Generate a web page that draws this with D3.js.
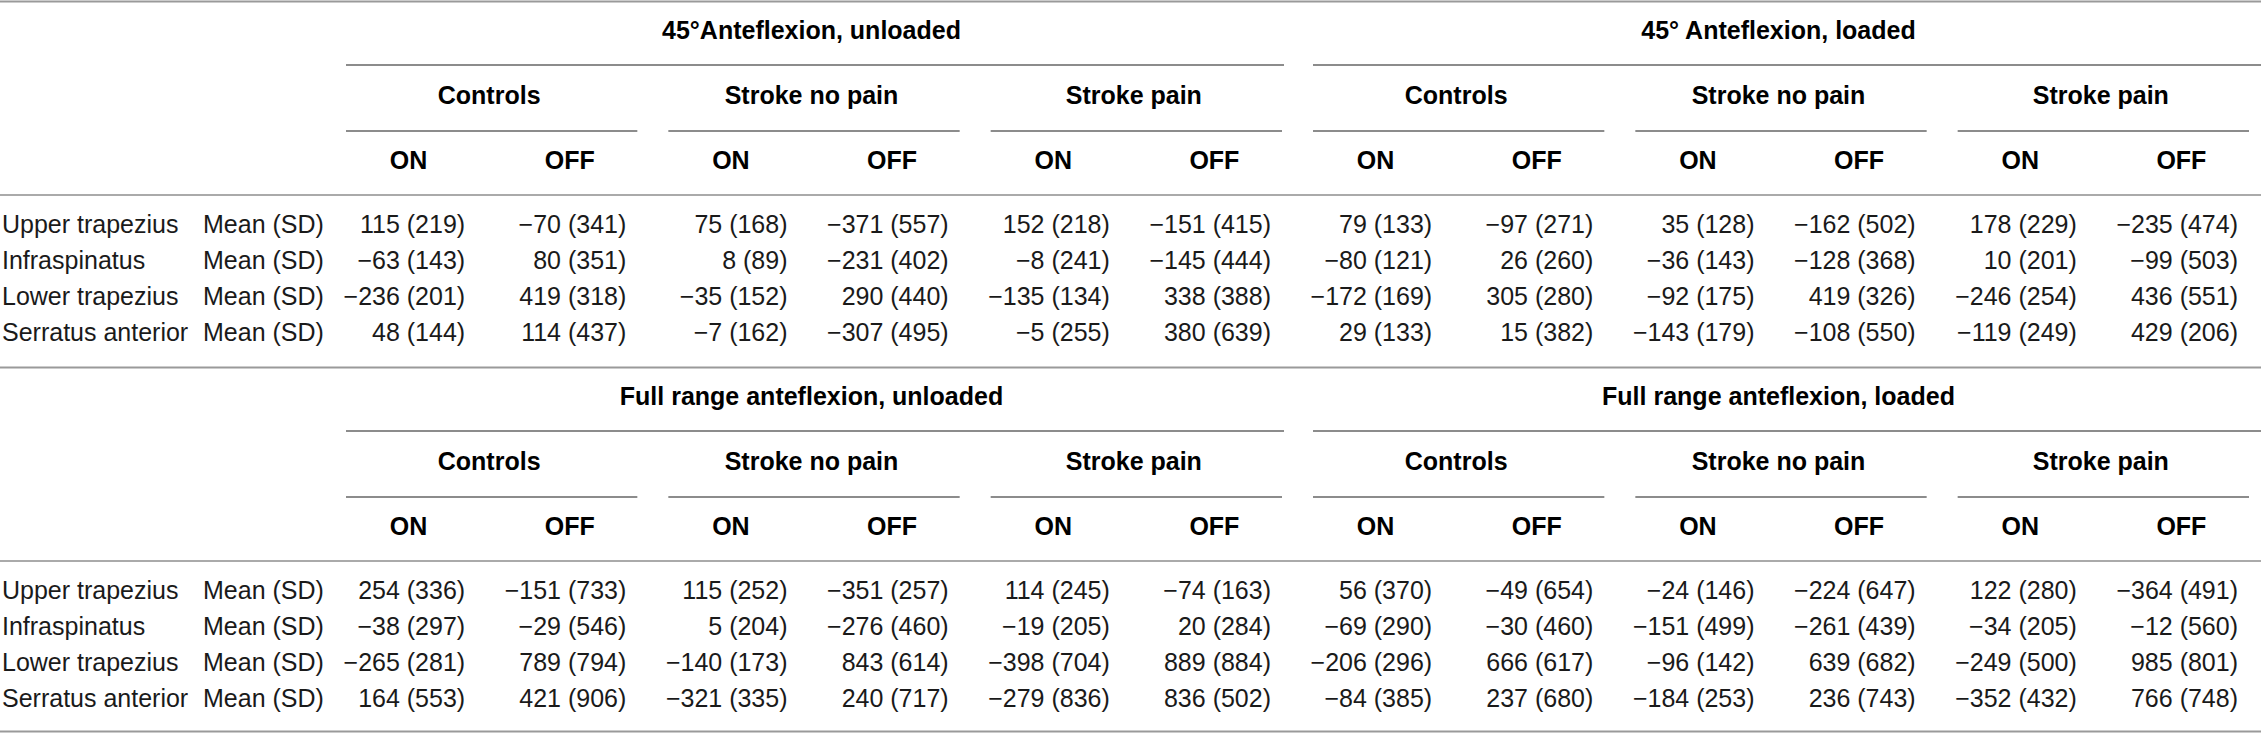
<!DOCTYPE html>
<html>
<head>
<meta charset="utf-8">
<script src="https://cdn.jsdelivr.net/npm/d3@7/dist/d3.min.js"></script>
<style>
  html, body { margin: 0; padding: 0; background: #fff; }
  svg { display: block; }
  text { font-family: "Liberation Sans", Arial, Helvetica, sans-serif; }
</style>
</head>
<body>
<svg id="chart" width="2261" height="733"></svg>
<script>
// ---------- data ----------
const sectionTitles = [
  ["45°Anteflexion, unloaded", "45° Anteflexion, loaded"],
  ["Full range anteflexion, unloaded", "Full range anteflexion, loaded"]
];
const groups = ["Controls", "Stroke no pain", "Stroke pain"];
const conditions = ["ON", "OFF"];
const muscles = ["Upper trapezius", "Infraspinatus", "Lower trapezius", "Serratus anterior"];
const statLabel = "Mean (SD)";

// Section 1: 45° anteflexion (unloaded cols 0-5, loaded cols 6-11)
const means45 = [
  [115, -70, 75, -371, 152, -151, 79, -97, 35, -162, 178, -235],
  [-63, 80, 8, -231, -8, -145, -80, 26, -36, -128, 10, -99],
  [-236, 419, -35, 290, -135, 338, -172, 305, -92, 419, -246, 436],
  [48, 114, -7, -307, -5, 380, 29, 15, -143, -108, -119, 429]
];
const sds45 = [
  [219, 341, 168, 557, 218, 415, 133, 271, 128, 502, 229, 474],
  [143, 351, 89, 402, 241, 444, 121, 260, 143, 368, 201, 503],
  [201, 318, 152, 440, 134, 388, 169, 280, 175, 326, 254, 551],
  [144, 437, 162, 495, 255, 639, 133, 382, 179, 550, 249, 206]
];
// Section 2: full range anteflexion
const meansFull = [
  [254, -151, 115, -351, 114, -74, 56, -49, -24, -224, 122, -364],
  [-38, -29, 5, -276, -19, 20, -69, -30, -151, -261, -34, -12],
  [-265, 789, -140, 843, -398, 889, -206, 666, -96, 639, -249, 985],
  [164, 421, -321, 240, -279, 836, -84, 237, -184, 236, -352, 766]
];
const sdsFull = [
  [336, 733, 252, 257, 245, 163, 370, 654, 146, 647, 280, 491],
  [297, 546, 204, 460, 205, 284, 290, 460, 499, 439, 205, 560],
  [281, 794, 173, 614, 704, 884, 296, 617, 142, 682, 500, 801],
  [553, 906, 335, 717, 836, 502, 385, 680, 253, 743, 432, 748]
];

const sections = [
  { titles: sectionTitles[0], means: means45, sds: sds45 },
  { titles: sectionTitles[1], means: meansFull, sds: sdsFull }
];

// ---------- layout ----------
const W = 2261, H = 733;
const svg = d3.select("#chart");
const nCols = sectionTitles[0].length * groups.length * conditions.length; // 12

const x = d3.scaleBand().domain(d3.range(nCols)).range([328, 2262]).padding(0);
const secY = d3.scaleBand().domain(d3.range(sections.length)).range([1, 733]);
const rowY = d3.scalePoint().domain(d3.range(muscles.length)).range([233, 341]);

const lineColor = "#9a9a9a";
const fmt = v => (v < 0 ? "\u2212" + Math.abs(v) : String(v));

function hline(g, x1, x2, y, color) {
  g.append("line").attr("x1", x1).attr("x2", x2).attr("y1", y).attr("y2", y)
    .attr("stroke", color || lineColor).attr("stroke-width", 2);
}

sections.forEach((sec, si) => {
  const g = svg.append("g").attr("transform", `translate(0,${secY(si) - 1})`);
  // top rule of the section
  hline(g, 0, W, 1.5);
  // header bottom rule
  hline(g, 0, W, 195, "#aaaaaa");

  sec.titles.forEach((title, bi) => {
    const c0 = bi * groups.length * conditions.length;
    const c1 = c0 + groups.length * conditions.length - 1;
    const bx0 = x(c0), bx1 = x(c1) + x.bandwidth();
    g.append("text").attr("x", (bx0 + bx1) / 2).attr("y", 39)
      .attr("text-anchor", "middle").attr("font-size", 25).attr("font-weight", "bold")
      .attr("fill", "#000").text(title);
    hline(g, bx0 + 18, bi === sec.titles.length - 1 ? W : bx1 - 11, 65, "#8c8c8c");

    groups.forEach((grp, gi) => {
      const s0 = c0 + gi * conditions.length;
      const sx0 = x(s0), sx1 = x(s0 + conditions.length - 1) + x.bandwidth();
      g.append("text").attr("x", (sx0 + sx1) / 2).attr("y", 104)
        .attr("text-anchor", "middle").attr("font-size", 25).attr("font-weight", "bold")
        .attr("fill", "#000").text(grp);
      hline(g, sx0 + 18, sx1 - 13, 131, "#8c8c8c");

      conditions.forEach((cond, ci) => {
        const col = s0 + ci;
        g.append("text").attr("x", x(col) + x.bandwidth() / 2).attr("y", 169)
          .attr("text-anchor", "middle").attr("font-size", 25).attr("font-weight", "bold")
          .attr("fill", "#000").text(cond);
      });
    });
  });

  muscles.forEach((m, ri) => {
    const y = rowY(ri);
    g.append("text").attr("x", 2).attr("y", y).attr("font-size", 25)
      .attr("fill", "#1a1a1a").text(m);
    g.append("text").attr("x", 203).attr("y", y).attr("font-size", 25)
      .attr("fill", "#1a1a1a").text(statLabel);
    d3.range(nCols).forEach(col => {
      g.append("text").attr("x", x(col) + x.bandwidth() - 24).attr("y", y)
        .attr("text-anchor", "end").attr("font-size", 25).attr("fill", "#1a1a1a")
        .text(`${fmt(sec.means[ri][col])} (${sec.sds[ri][col]})`);
    });
  });
});
// bottom rule
hline(svg, 0, W, 731.5);
</script>
</body>
</html>
